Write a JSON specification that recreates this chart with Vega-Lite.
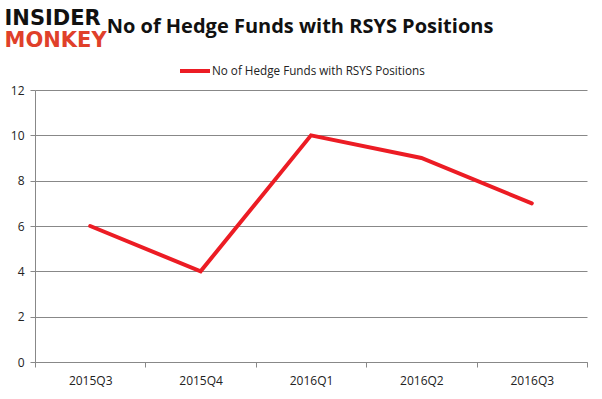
{
  "$schema": "https://vega.github.io/schema/vega-lite/v6.json",
  "width": 552,
  "height": 272,
  "autosize": {"type": "none"},
  "padding": {"left": 35, "top": 90, "right": 15, "bottom": 37},
  "background": "white",
  "title": {
    "text": "No of Hedge Funds with RSYS Positions",
    "orient": "top",
    "anchor": "middle",
    "frame": "group",
    "offset": 0,
    "dy": 30,
    "dx": -11,
    "font": "Open Sans",
    "fontSize": 20,
    "fontWeight": "bold",
    "color": "#111111"
  },
  "data": {
    "values": [
      {"quarter": "2015Q3", "funds": 6, "series": "No of Hedge Funds with RSYS Positions"},
      {"quarter": "2015Q4", "funds": 4, "series": "No of Hedge Funds with RSYS Positions"},
      {"quarter": "2016Q1", "funds": 10, "series": "No of Hedge Funds with RSYS Positions"},
      {"quarter": "2016Q2", "funds": 9, "series": "No of Hedge Funds with RSYS Positions"},
      {"quarter": "2016Q3", "funds": 7, "series": "No of Hedge Funds with RSYS Positions"}
    ]
  },
  "mark": {"type": "line", "strokeWidth": 4, "strokeCap": "round"},
  "encoding": {
    "x": {
      "field": "quarter",
      "type": "ordinal",
      "scale": {"type": "band", "paddingInner": 0, "paddingOuter": 0},
      "axis": {
        "title": "MONKEY",
        "titleX": -31,
        "titleY": -322,
        "titleAlign": "left",
        "titleBaseline": "middle",
        "titleFont": "DejaVu Sans",
        "titleFontSize": 21,
        "titleFontWeight": "bold",
        "titleColor": "#e0402a",
        "labelAngle": 0,
        "labelFont": "Open Sans",
        "labelFontSize": 12,
        "labelColor": "#222222",
        "labelPadding": 8,
        "domainColor": "#888888",
        "tickColor": "#888888",
        "tickSize": 5,
        "tickBand": "extent",
        "grid": false
      }
    },
    "y": {
      "field": "funds",
      "type": "quantitative",
      "scale": {"domain": [0, 12]},
      "axis": {
        "title": "INSIDER",
        "titleAngle": 0,
        "titleX": -31,
        "titleY": -72,
        "titleAlign": "left",
        "titleBaseline": "middle",
        "titleFont": "DejaVu Sans",
        "titleFontSize": 21,
        "titleFontWeight": "bold",
        "titleColor": "#111111",
        "values": [0, 2, 4, 6, 8, 10, 12],
        "labelFont": "Open Sans",
        "labelFontSize": 12,
        "labelColor": "#222222",
        "labelPadding": 6,
        "domainColor": "#888888",
        "tickColor": "#888888",
        "tickSize": 5,
        "gridColor": "#888888",
        "gridWidth": 1
      }
    },
    "color": {
      "field": "series",
      "type": "nominal",
      "scale": {"range": ["#ec1c24"]},
      "legend": {
        "title": null,
        "orient": "none",
        "legendX": 143,
        "legendY": -36,
        "symbolType": "stroke",
        "symbolSize": 900,
        "symbolStrokeWidth": 4,
        "labelFont": "Open Sans",
        "labelFontSize": 11.7,
        "labelColor": "#222222",
        "labelOffset": 0,
        "labelLimit": 0
      }
    }
  },
  "config": {
    "view": {"stroke": null}
  }
}
